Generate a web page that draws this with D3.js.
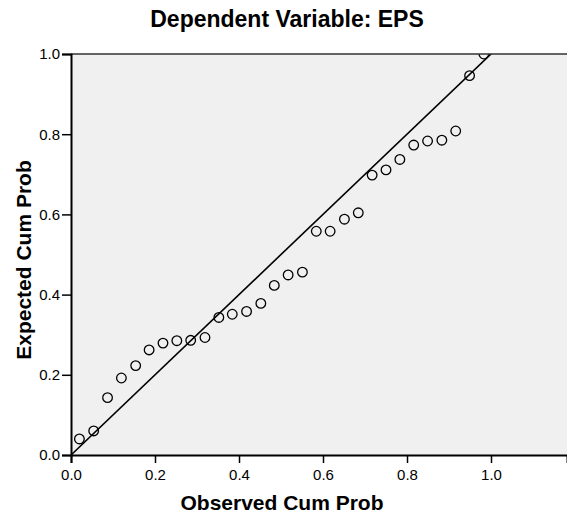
<!DOCTYPE html>
<html>
<head>
<meta charset="utf-8">
<script src="https://cdn.jsdelivr.net/npm/d3@7"></script>
<style>
	body { margin: 0; background: #fff; }
	svg text { font-family: "Liberation Sans", Arial, sans-serif; fill: #000; }
</style>
</head>
<body>
<script>
// 観測累積確率 (x) と期待累積確率 (y)
var observed = [0.020, 0.054, 0.087, 0.120, 0.154, 0.186, 0.219, 0.252, 0.285, 0.319,
	0.352, 0.384, 0.418, 0.452, 0.484, 0.517, 0.551, 0.584, 0.617, 0.651,
	0.684, 0.717, 0.750, 0.783, 0.816, 0.849, 0.883, 0.916, 0.949, 0.983];
var expected = [0.040, 0.060, 0.143, 0.192, 0.223, 0.262, 0.279, 0.285, 0.286, 0.293,
	0.343, 0.351, 0.358, 0.378, 0.423, 0.449, 0.456, 0.558, 0.558, 0.588,
	0.604, 0.698, 0.711, 0.737, 0.773, 0.783, 0.785, 0.808, 0.946, 1.000];
var xTicks = [0, 0.2, 0.4, 0.6, 0.8, 1.0];
var yTicks = [0, 0.2, 0.4, 0.6, 0.8, 1.0];
var diagonal = [[0, 0], [1.2, 1.2]];

var W = 567, H = 517;
var margin = {top: 54, right: 0, bottom: 62, left: 71},
	width = W - margin.left - margin.right,
	height = H - margin.top - margin.bottom;

var x = d3.scaleLinear().domain([0, width / 420]).range([0, width]);
var y = d3.scaleLinear().domain([0, 1]).range([height, 0]);

var svg = d3.select("body").append("svg")
	.attr("width", W)
	.attr("height", H);

// タイトル
svg.append("text")
	.attr("x", 287).attr("y", 27)
	.attr("text-anchor", "middle")
	.style("font-size", "23px").style("font-weight", "bold")
	.text("Dependent Variable: EPS");

var g = svg.append("g")
	.attr("transform", "translate(" + margin.left + "," + margin.top + ")");

// 背景
g.append("rect")
	.attr("width", width).attr("height", height)
	.attr("fill", "#f0f0f0");

g.append("clipPath").attr("id", "clip")
	.append("rect").attr("width", width).attr("height", height);

var plot = g.append("g").attr("clip-path", "url(#clip)");

// 対角線
plot.append("path")
	.datum(diagonal)
	.attr("fill", "none")
	.attr("stroke", "#000")
	.attr("stroke-width", 1.6)
	.attr("d", d3.line().x(function(d){ return x(d[0]); }).y(function(d){ return y(d[1]); }));

// 点
plot.selectAll("circle")
	.data(observed)
	.enter().append("circle")
	.attr("cx", function(d){ return x(d); })
	.attr("cy", function(d, i){ return y(expected[i]); })
	.attr("r", 4.8)
	.attr("fill", "none")
	.attr("stroke", "#000")
	.attr("stroke-width", 1.3);

// 上枠
g.append("line")
	.attr("x1", 0).attr("x2", width).attr("y1", 0).attr("y2", 0)
	.attr("stroke", "#333").attr("stroke-width", 1.5);

// X軸
var xAxis = g.append("g")
	.attr("transform", "translate(0," + height + ")")
	.call(d3.axisBottom(x).tickValues(xTicks).tickFormat(d3.format(".1f")).tickSizeOuter(0).tickSize(8).tickPadding(6));
// Y軸
var yAxis = g.append("g")
	.call(d3.axisLeft(y).tickValues(yTicks).tickFormat(d3.format(".1f")).tickSizeOuter(0).tickSize(9).tickPadding(2));

[xAxis, yAxis].forEach(function(a){
	a.select(".domain").attr("stroke", "#000").attr("stroke-width", 2);
	a.selectAll(".tick line").attr("stroke", "#000").attr("stroke-width", 1.5);
	a.selectAll(".tick text").style("font-size", "15px").attr("fill", "#000");
});

// 軸ラベル
svg.append("text")
	.attr("x", 282).attr("y", 510)
	.attr("text-anchor", "middle")
	.style("font-size", "21px").style("font-weight", "bold")
	.text("Observed Cum Prob");

svg.append("text")
	.attr("transform", "translate(31,260) rotate(-90)")
	.attr("text-anchor", "middle")
	.style("font-size", "21px").style("font-weight", "bold")
	.text("Expected Cum Prob");
</script>
</body>
</html>
